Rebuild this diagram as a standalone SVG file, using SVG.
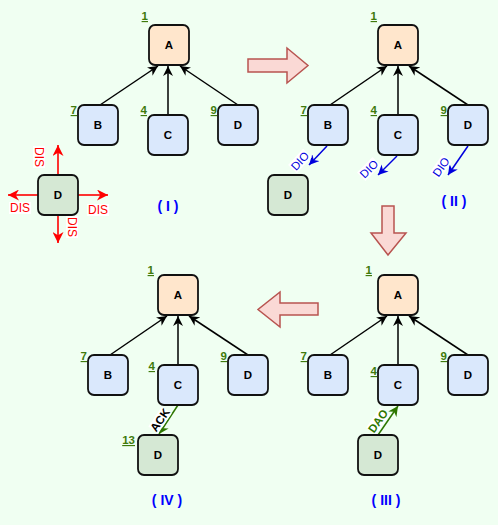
<svg xmlns="http://www.w3.org/2000/svg" width="498" height="525" viewBox="0 0 498 525">
<style>
.n{stroke:#111;stroke-width:1.8}
.a{fill:#ffe6cc}.b{fill:#dae8fc}.g{fill:#d5e8d4}
.t{font-family:"Liberation Sans",Arial,sans-serif;font-weight:bold;font-size:11.5px;fill:#000;text-anchor:middle}
.num{font-family:"Liberation Sans",Arial,sans-serif;font-weight:bold;font-size:11.5px;fill:#3f7a0c;text-anchor:end;text-decoration:underline}
.e{fill:none;stroke:#000;stroke-width:1.5}
.big{fill:#fad9d5;stroke:#b85450;stroke-width:1.5}
.title{font-family:"Liberation Sans",Arial,sans-serif;font-weight:bold;font-size:14px;fill:#0000ff;text-anchor:middle}
.lbl{font-family:"Liberation Sans",Arial,sans-serif;font-size:11.5px;text-anchor:middle}
.dis{font-family:"Liberation Sans",Arial,sans-serif;font-size:12px;text-anchor:middle;fill:#ff0000}
</style>
<defs>
<marker id="mk" viewBox="0 0 10 10" refX="10" refY="5" markerWidth="10" markerHeight="10" markerUnits="userSpaceOnUse" orient="auto"><path d="M0,0 L10,5 L0,10 L3,5 Z" fill="#000"/></marker>
<marker id="mb" viewBox="0 0 10 10" refX="10" refY="5" markerWidth="10" markerHeight="10" markerUnits="userSpaceOnUse" orient="auto"><path d="M0,0 L10,5 L0,10 L3,5 Z" fill="#0000dd"/></marker>
<marker id="mr" viewBox="0 0 10 10" refX="10" refY="5" markerWidth="11" markerHeight="11" markerUnits="userSpaceOnUse" orient="auto"><path d="M0,0 L10,5 L0,10 L3,5 Z" fill="#ff0000"/></marker>
<marker id="mg" viewBox="0 0 10 10" refX="10" refY="5" markerWidth="10" markerHeight="10" markerUnits="userSpaceOnUse" orient="auto"><path d="M0,0 L10,5 L0,10 L3,5 Z" fill="#2d7600"/></marker>
</defs>
<rect width="498" height="525" fill="#f0fff2"/>

<g id="connectors">
<!-- panel I -->
<line class="e" x1="100" y1="105" x2="158" y2="66" marker-end="url(#mk)"/>
<line class="e" x1="168" y1="115" x2="168" y2="66" marker-end="url(#mk)"/>
<line class="e" x1="238" y1="105" x2="180" y2="66" marker-end="url(#mk)"/>
<line x1="58" y1="175" x2="58" y2="145" stroke="#ff0000" stroke-width="1.6" marker-end="url(#mr)"/>
<line x1="38" y1="195" x2="8" y2="195" stroke="#ff0000" stroke-width="1.6" marker-end="url(#mr)"/>
<line x1="78" y1="195" x2="108" y2="195" stroke="#ff0000" stroke-width="1.6" marker-end="url(#mr)"/>
<line x1="58" y1="215" x2="58" y2="243" stroke="#ff0000" stroke-width="1.6" marker-end="url(#mr)"/>
<!-- panel II -->
<line class="e" x1="330" y1="105" x2="387" y2="66" marker-end="url(#mk)"/>
<line class="e" x1="398" y1="115" x2="398" y2="66" marker-end="url(#mk)"/>
<line class="e" x1="468" y1="105" x2="409" y2="66" marker-end="url(#mk)"/>
<line x1="327" y1="146" x2="309" y2="165" stroke="#0000dd" stroke-width="1.5" marker-end="url(#mb)"/>
<line x1="397" y1="156" x2="378" y2="175" stroke="#0000dd" stroke-width="1.5" marker-end="url(#mb)"/>
<line x1="468" y1="146" x2="448" y2="175" stroke="#0000dd" stroke-width="1.5" marker-end="url(#mb)"/>
<!-- panel III -->
<line class="e" x1="330" y1="355" x2="387" y2="316" marker-end="url(#mk)"/>
<line class="e" x1="398" y1="365" x2="398" y2="316" marker-end="url(#mk)"/>
<line class="e" x1="468" y1="355" x2="409" y2="316" marker-end="url(#mk)"/>
<line x1="378" y1="435" x2="398" y2="406" stroke="#2d7600" stroke-width="1.5" marker-end="url(#mg)"/>
<!-- panel IV -->
<line class="e" x1="110" y1="355" x2="167" y2="316" marker-end="url(#mk)"/>
<line class="e" x1="178" y1="365" x2="178" y2="316" marker-end="url(#mk)"/>
<line class="e" x1="248" y1="355" x2="189" y2="316" marker-end="url(#mk)"/>
<line x1="178" y1="405" x2="159" y2="434" stroke="#2d7600" stroke-width="1.5" marker-end="url(#mg)"/>
<!-- block arrows -->
<polygon class="big" points="248,59 287,59 287,48 308,65.5 287,83 287,72 248,72"/>
<polygon class="big" points="382,206 394,206 394,233 406,233 388,255 371,233 382,233"/>
<polygon class="big" points="318,303 280,303 280,292 258,309.5 280,327 280,315 318,315"/>
</g>

<g id="edge-labels">
<g transform="translate(39,157) rotate(90)"><rect x="-11" y="-6" width="22" height="12" fill="#fff"/><text class="dis" y="4">DIS</text></g>
<g transform="translate(20,208)"><rect x="-11" y="-6" width="22" height="12" fill="#fff"/><text class="dis" y="4">DIS</text></g>
<g transform="translate(98,210)"><rect x="-11" y="-6" width="22" height="12" fill="#fff"/><text class="dis" y="4">DIS</text></g>
<g transform="translate(72,227) rotate(90)"><rect x="-11" y="-6" width="22" height="12" fill="#fff"/><text class="dis" y="4">DIS</text></g>
<g transform="translate(300,161) rotate(-47)"><rect x="-11" y="-6" width="22" height="12" fill="#fff"/><text class="lbl" y="4" fill="#0000dd">DIO</text></g>
<g transform="translate(369,169) rotate(-45)"><rect x="-11" y="-6" width="22" height="12" fill="#fff"/><text class="lbl" y="4" fill="#0000dd">DIO</text></g>
<g transform="translate(441,167) rotate(-55)"><rect x="-11" y="-6" width="22" height="12" fill="#fff"/><text class="lbl" y="4" fill="#0000dd">DIO</text></g>
<g transform="translate(378,421) rotate(-55)"><rect x="-12" y="-6" width="24" height="12" fill="#fff"/><text class="lbl" y="4" fill="#2d7600" font-weight="bold">DAO</text></g>
<g transform="translate(160,420) rotate(-56)"><rect x="-12" y="-6" width="24" height="12" fill="#fff"/><text class="lbl" y="4" fill="#000" font-weight="bold">ACK</text></g>
</g>

<!-- Panel I -->
<g id="p1-A"><rect class="n a" x="149" y="25" width="40" height="40" rx="6"/><text class="t" x="169" y="49">A</text><text class="num" x="148" y="20">1</text></g>
<g id="p1-B"><rect class="n b" x="78" y="105" width="40" height="40" rx="6"/><text class="t" x="98" y="129">B</text><text class="num" x="77" y="114">7</text></g>
<g id="p1-C"><rect class="n b" x="148" y="115" width="40" height="40" rx="6"/><text class="t" x="168" y="139">C</text><text class="num" x="147" y="114">4</text></g>
<g id="p1-D"><rect class="n b" x="218" y="105" width="40" height="40" rx="6"/><text class="t" x="238" y="129">D</text><text class="num" x="217" y="114">9</text></g>
<g id="p1-Dnew"><rect class="n g" x="38" y="175" width="40" height="40" rx="6"/><text class="t" x="58" y="199">D</text></g>
<text class="title" x="168" y="211">( I )</text>

<!-- Panel II -->
<g id="p2-A"><rect class="n a" x="378" y="25" width="40" height="40" rx="6"/><text class="t" x="398" y="49">A</text><text class="num" x="377" y="20">1</text></g>
<g id="p2-B"><rect class="n b" x="308" y="105" width="40" height="40" rx="6"/><text class="t" x="328" y="129">B</text><text class="num" x="307" y="114">7</text></g>
<g id="p2-C"><rect class="n b" x="378" y="115" width="40" height="40" rx="6"/><text class="t" x="398" y="139">C</text><text class="num" x="377" y="114">4</text></g>
<g id="p2-D"><rect class="n b" x="448" y="105" width="40" height="40" rx="6"/><text class="t" x="468" y="129">D</text><text class="num" x="447" y="114">9</text></g>
<g id="p2-Dnew"><rect class="n g" x="268" y="175" width="40" height="40" rx="6"/><text class="t" x="288" y="199">D</text></g>
<text class="title" x="454" y="206">( II )</text>

<!-- Panel III -->
<g id="p3-A"><rect class="n a" x="378" y="275" width="40" height="40" rx="6"/><text class="t" x="398" y="299">A</text><text class="num" x="372" y="274">1</text></g>
<g id="p3-B"><rect class="n b" x="308" y="355" width="40" height="40" rx="6"/><text class="t" x="328" y="379">B</text><text class="num" x="307" y="360">7</text></g>
<g id="p3-C"><rect class="n b" x="378" y="365" width="40" height="40" rx="6"/><text class="t" x="398" y="389">C</text><text class="num" x="377" y="375">4</text></g>
<g id="p3-D"><rect class="n b" x="448" y="355" width="40" height="40" rx="6"/><text class="t" x="468" y="379">D</text><text class="num" x="447" y="360">9</text></g>
<g id="p3-Dnew"><rect class="n g" x="358" y="435" width="40" height="40" rx="6"/><text class="t" x="378" y="459">D</text></g>
<text class="title" x="386" y="505">( III )</text>

<!-- Panel IV -->
<g id="p4-A"><rect class="n a" x="158" y="275" width="40" height="40" rx="6"/><text class="t" x="178" y="299">A</text><text class="num" x="154" y="274">1</text></g>
<g id="p4-B"><rect class="n b" x="88" y="355" width="40" height="40" rx="6"/><text class="t" x="108" y="379">B</text><text class="num" x="87" y="360">7</text></g>
<g id="p4-C"><rect class="n b" x="158" y="365" width="40" height="40" rx="6"/><text class="t" x="178" y="389">C</text><text class="num" x="155" y="370">4</text></g>
<g id="p4-D"><rect class="n b" x="228" y="355" width="40" height="40" rx="6"/><text class="t" x="248" y="379">D</text><text class="num" x="227" y="360">9</text></g>
<g id="p4-Dnew"><rect class="n g" x="138" y="435" width="40" height="40" rx="6"/><text class="t" x="158" y="459">D</text><text class="num" x="135" y="444">13</text></g>
<text class="title" x="167" y="505">( IV )</text>
</svg>
